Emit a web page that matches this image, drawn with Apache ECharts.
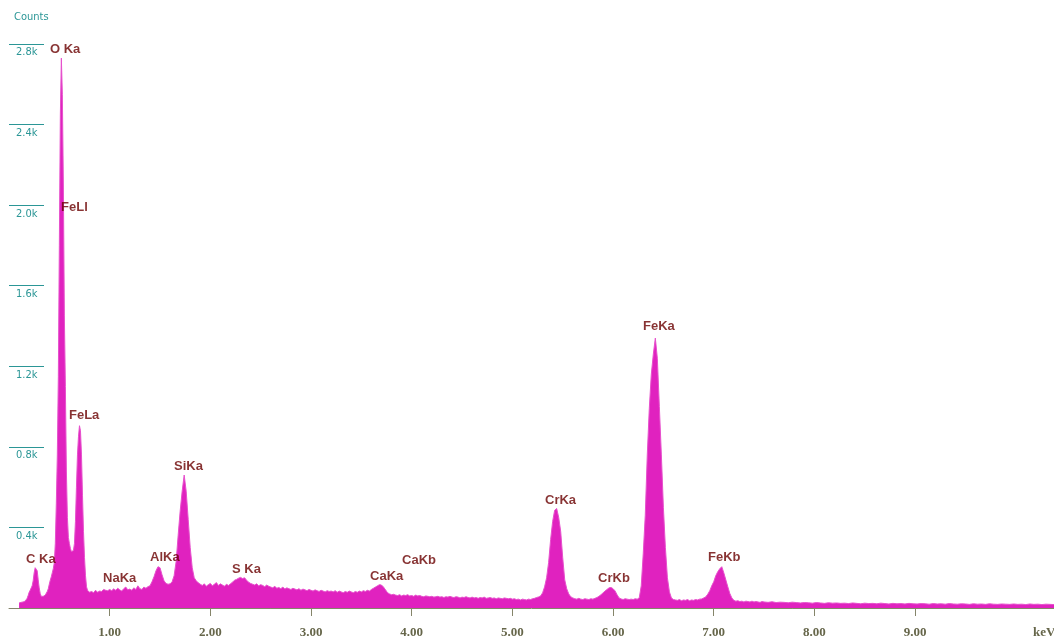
<!DOCTYPE html>
<html>
<head>
<meta charset="utf-8">
<title>EDS spectrum</title>
<script src="https://cdn.jsdelivr.net/npm/echarts@6/dist/echarts.min.js"></script>
<style>
  html, body { margin: 0; padding: 0; background: #ffffff; }
  #chart { width: 1054px; height: 639px; }
</style>
</head>
<body>
<div id="chart"></div>
<script>
// Spectrum counts, three channel blocks (start keV, step keV, counts per channel)
const lowStart = 0.10, lowStep = 0.01;
const lowCounts = [
  25, 26, 28, 27, 30, 31, 34, 40, 48, 62,
  78, 88, 96, 110, 135, 175, 200, 205, 185, 140,
  100, 72, 58, 52, 58, 62, 64, 70, 82, 95,
  118, 138, 155, 175, 195, 225, 320, 520, 760, 1150,
  1800, 2450, 2730, 2550, 2100, 1450, 1100, 680, 450, 350,
  320, 295, 280, 275, 285, 320, 430, 600, 760, 850,
  905, 880, 760, 560, 380, 250, 160, 105, 88, 82,
  78, 74, 82, 80, 76, 84, 88, 80, 78, 86,
  84, 90, 82, 86, 92, 84, 88, 94, 86, 90
];

const midStart = 1.00, midStep = 0.02;
const midCounts = [
  92, 86, 95, 88, 98, 90, 84, 96, 104, 90,
  94, 88, 100, 92, 110, 96, 92, 104, 98, 106,
  110, 130, 155, 185, 205, 200, 165, 135, 122, 118,
  120, 130, 160, 230, 360, 480, 580, 660, 580, 440,
  300, 200, 150, 135, 125, 118, 112, 120, 108, 116,
  122, 110, 118, 126, 112, 120, 114, 108, 118, 112,
  120, 128, 138, 142, 148, 152, 146, 150, 138, 128,
  122, 118, 114, 120, 110, 116, 112, 106, 114, 108,
  104, 100, 108, 98, 102, 96, 104, 94, 100, 96,
  92, 98, 94, 90, 96, 88, 94, 90, 86, 92,
  88, 84, 90, 86, 82, 88, 84, 80, 86, 82,
  84, 80, 86, 78, 84, 80, 76, 82, 78, 84,
  80, 76, 82, 78, 84, 80, 86, 82, 88, 84,
  92, 98, 104, 110, 116, 114, 104, 90, 76, 70,
  66, 68, 64, 62, 66, 60, 64, 62, 66, 60,
  62, 58, 64, 60, 62, 58, 56, 60, 58, 56,
  58, 54, 56, 58, 54, 56, 52, 56, 54, 58,
  54, 52, 56, 54, 50, 54, 52, 56, 52, 50,
  54, 50, 52, 48, 52, 50, 54, 48, 50, 52,
  48, 50, 46, 50, 48, 46, 50, 48, 46, 48,
  44, 46, 42, 44, 40, 44, 42, 40, 44, 42,
  46, 48, 52, 55, 60, 75, 105, 150, 226, 340,
  430, 485, 494, 450, 380, 250, 140, 95, 70, 56,
  50, 46, 44, 48, 44, 42, 46, 44, 42, 46,
  44, 48, 52, 58, 66, 75, 84, 92, 100, 102,
  96, 85, 66, 50, 45, 42, 46, 44, 42, 44,
  42, 46, 44, 50, 110, 270, 460, 760, 990, 1160,
  1260, 1340, 1240, 1000, 760, 500, 300, 150, 80, 50,
  42, 40, 38, 42, 36, 40, 38, 42, 36, 40,
  38, 42, 40, 44, 45, 50, 55, 68, 85, 110,
  130, 160, 180, 195, 205, 175, 140, 105, 72, 50,
  38, 34, 36, 32, 34, 30, 34, 32, 30, 34,
  30, 32, 30, 28, 32
];

const highStart = 7.50, highStep = 0.04;
const highCounts = [
  30, 28, 31, 27, 29, 28, 26, 29, 27, 25,
  27, 26, 24, 27, 25, 23, 26, 24, 25, 23,
  24, 22, 25, 23, 21, 24, 22, 23, 21, 24,
  22, 20, 23, 21, 22, 20, 23, 21, 20, 22,
  21, 19, 22, 20, 21, 19, 22, 20, 19, 21,
  20, 18, 21, 19, 20, 18, 21, 19, 18, 20,
  19, 18, 20, 18, 19, 17, 20, 18, 19, 17,
  19, 18, 17
];

// Axis ticks
const xTickValues = [1, 2, 3, 4, 5, 6, 7, 8, 9];
const yTickValues = [400, 800, 1200, 1600, 2000, 2400, 2800];

// Line identifications (label anchor in keV / counts)
const peakNames = ['C Ka', 'O Ka', 'FeLl', 'FeLa', 'NaKa', 'AlKa', 'SiKa', 'S Ka', 'CaKa', 'CaKb', 'CrKa', 'CrKb', 'FeKa', 'FeKb'];
const peakLabelKeV = [0.169, 0.407, 0.517, 0.596, 0.934, 1.401, 1.639, 2.215, 3.586, 3.904, 5.324, 5.851, 6.298, 6.943];
const peakLabelCounts = [243, 2775, 1987, 957, 149, 253, 704, 193, 159, 238, 535, 149, 1398, 253];

function block(start, step, counts) {
  return counts.map((c, i) => [Number((start + i * step).toFixed(3)), c]);
}
const spectrum = [].concat(
  block(lowStart, lowStep, lowCounts),
  block(midStart, midStep, midCounts),
  block(highStart, highStep, highCounts)
);
const peakLabels = peakNames.map((n, i) => ({ name: n, value: [peakLabelKeV[i], peakLabelCounts[i]] }));

const TEAL = '#2b9696';
const AXIS = '#85856a';
const AXIS_TEXT = '#66664a';
const PEAK_TEXT = '#6a0000';
const FILL = '#e022bf';
const NARROW = '"Liberation Sans Narrow", "DejaVu Sans Condensed", "Roboto", sans-serif';

const chart = echarts.init(document.getElementById('chart'), null, { renderer: 'canvas' });

chart.setOption({
  animation: false,
  backgroundColor: '#ffffff',
  grid: { left: 9, right: 0, top: 44, bottom: 30, containLabel: false },
  graphic: [
    { type: 'text', left: 14, top: 12,
      style: { text: 'Counts', fill: TEAL, font: '11px ' + NARROW } },
    { type: 'text', left: 1033, top: 626,
      style: { text: 'keV', fill: AXIS_TEXT, font: 'bold 13px "Liberation Serif", "DejaVu Serif", serif' } }
  ],
  xAxis: [
    {
      type: 'value', min: 0, max: 10.38, interval: 1, position: 'bottom', offset: 8,
      axisLine: { show: true, lineStyle: { color: AXIS, width: 1 } },
      axisTick: { show: true, inside: false, length: 4, customValues: xTickValues, lineStyle: { color: AXIS } },
      axisLabel: {
        show: true, customValues: xTickValues, margin: 10,
        color: AXIS_TEXT, fontFamily: '"Liberation Serif", "DejaVu Serif", serif',
        fontWeight: 'bold', fontSize: 13,
        formatter: v => v.toFixed(2)
      },
      splitLine: { show: false }
    },
    {
      type: 'value', min: 0, max: 10.38, interval: 1, position: 'bottom', offset: 8,
      axisLine: { show: false },
      axisTick: { show: true, inside: true, length: 5, customValues: xTickValues, lineStyle: { color: AXIS } },
      axisLabel: { show: false },
      splitLine: { show: false }
    }
  ],
  yAxis: {
    type: 'value', min: 0, max: 2800, interval: 400, position: 'left', offset: -35,
    axisLine: { show: false },
    axisTick: { show: true, inside: false, length: 35, customValues: yTickValues, lineStyle: { color: TEAL, width: 1 } },
    axisLabel: {
      show: true, customValues: yTickValues, margin: 28, align: 'left', verticalAlign: 'top',
      padding: [3, 0, 0, 0],
      color: TEAL, fontFamily: NARROW, fontSize: 11,
      formatter: v => (v / 1000).toFixed(1) + 'k'
    },
    splitLine: { show: false }
  },
  series: [
    {
      type: 'line',
      name: 'Counts',
      xAxisIndex: 0,
      data: spectrum,
      showSymbol: false,
      symbol: 'none',
      silent: true,
      lineStyle: { color: '#e651cc', width: 1 },
      areaStyle: { color: FILL, opacity: 1 },
      z: 2
    },
    {
      type: 'scatter',
      xAxisIndex: 0,
      data: peakLabels,
      symbolSize: 0,
      silent: true,
      label: {
        show: true, position: 'right', distance: 0,
        formatter: p => p.name,
        color: PEAK_TEXT, fontWeight: 'bold', fontSize: 13,
        fontFamily: '"Liberation Sans", Arial, sans-serif'
      },
      z: 5
    }
  ]
});
</script>
</body>
</html>
